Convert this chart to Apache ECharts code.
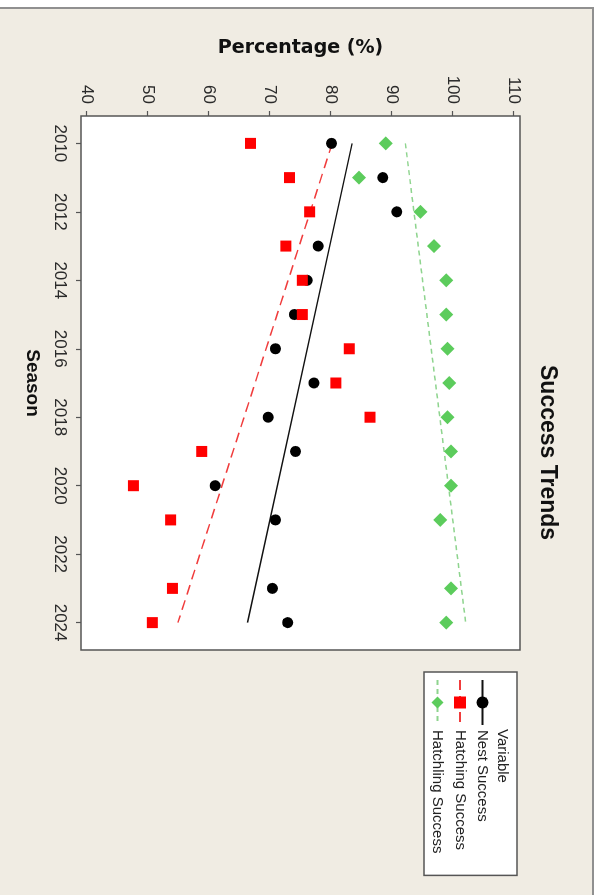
<!DOCTYPE html>
<html>
<head>
<meta charset="utf-8">
<script src="https://cdn.jsdelivr.net/npm/echarts@6/dist/echarts.min.js"></script>
<style>
html,body{margin:0;padding:0;background:#fff;width:600px;height:895px;overflow:hidden;}
#chart{position:absolute;left:0;top:0;width:895px;height:600px;transform-origin:0 0;transform:translate(600px,0) rotate(90deg);}
</style>
</head>
<body>
<div id="chart"></div>
<script>
// ---- data ----
const seasons = [2010, 2011, 2012, 2013, 2014, 2015, 2016, 2017, 2018, 2019, 2020, 2021, 2022, 2023, 2024];
const nestSuccess = [80.1, 88.5, 90.8, 77.9, 76.1, 74.0, 70.9, 77.2, 69.7, 74.2, 61.0, 70.9, null, 70.4, 72.9];
const hatchingSuccess = [66.8, 73.2, 76.5, 72.6, 75.3, 75.3, 83.0, 80.8, 86.4, 58.8, 47.6, 53.7, null, 54.0, 50.7];
const hatchlingSuccess = [89.0, 84.6, 94.7, 96.9, 98.9, 98.9, 99.1, 99.4, 99.1, 99.7, 99.7, 97.9, null, 99.7, 98.9];
const seasonTicks = [2010, 2012, 2014, 2016, 2018, 2020, 2022, 2024];
const percentTicks = [40, 50, 60, 70, 80, 90, 100, 110];
const seriesNames = ['Nest Success', 'Hatching Success', 'Hatchling Success'];

function pairs(xs, ys) {
  return xs.map((x, i) => [x, ys[i]]).filter(p => p[1] !== null && p[1] !== undefined);
}
function fitLine(xs, ys) {
  const pts = pairs(xs, ys);
  const n = pts.length;
  const mx = pts.reduce((s, p) => s + p[0], 0) / n;
  const my = pts.reduce((s, p) => s + p[1], 0) / n;
  let sxy = 0, sxx = 0;
  pts.forEach(p => { sxy += (p[0] - mx) * (p[1] - my); sxx += (p[0] - mx) * (p[0] - mx); });
  const b = sxy / sxx, a = my - b * mx;
  const x0 = Math.min(...pts.map(p => p[0])), x1 = Math.max(...pts.map(p => p[0]));
  return [[x0, a + b * x0], [x1, a + b * x1]];
}

const FONT = 'Liberation Sans';
const chart = echarts.init(document.getElementById('chart'), null, {width: 895, height: 600, renderer: 'canvas'});

const option = {
  backgroundColor: '#ffffff',
  animation: false,
  title: {
    text: 'Success Trends',
    left: 365, top: 41, padding: 0,
    textStyle: {fontFamily: FONT, fontSize: 23, fontWeight: 'bold', color: '#111'}
  },
  graphic: {
    elements: [
      {type: 'rect', z: -10, silent: true,
       shape: {x: 8, y: 7, width: 900, height: 600},
       style: {fill: '#f0ece3', stroke: '#909090', lineWidth: 2}},
      {type: 'text', z: 100, silent: true, x: 729, y: 98,
       style: {text: 'Variable', fontFamily: FONT, fontSize: 15, fill: '#222', verticalAlign: 'middle', align: 'left'}}
    ]
  },
  legend: {
    data: seriesNames,
    orient: 'vertical',
    left: 672, top: 83,
    padding: [27, 22, 6, 7],
    itemWidth: 45, itemHeight: 15, itemGap: 7.5,
    backgroundColor: '#ffffff',
    borderColor: '#555', borderWidth: 1.5,
    selectedMode: false,
    textStyle: {fontFamily: FONT, fontSize: 15, color: '#222'}
  },
  grid: {
    left: 116, top: 80, width: 534, height: 439,
    show: true, backgroundColor: '#ffffff', borderColor: '#555', borderWidth: 1.5,
    containLabel: false
  },
  xAxis: {
    type: 'value', min: 2009.2, max: 2024.8, position: 'bottom',
    name: 'Season', nameLocation: 'middle', nameGap: 39,
    nameTextStyle: {fontFamily: FONT, fontSize: 19, fontWeight: 'bold', color: '#111'},
    axisLine: {show: false},
    axisTick: {show: true, inside: false, length: 5, customValues: seasonTicks, lineStyle: {color: '#555', width: 1.2}},
    axisLabel: {customValues: seasonTicks, formatter: v => String(v), fontFamily: FONT, fontSize: 17, color: '#2a2a2a', margin: 13},
    splitLine: {show: false}
  },
  yAxis: {
    type: 'value', min: 39, max: 111, position: 'left',
    name: 'Percentage (%)', nameLocation: 'middle', nameGap: 58, nameRotate: 90,
    nameTextStyle: {fontFamily: 'DejaVu Sans', fontSize: 19, fontWeight: 'bold', color: '#111'},
    axisLine: {show: false},
    axisTick: {show: true, inside: false, length: 5, customValues: percentTicks, lineStyle: {color: '#555', width: 1.2}},
    axisLabel: {customValues: percentTicks, formatter: v => String(v), fontFamily: FONT, fontSize: 17, color: '#2a2a2a', margin: 12},
    splitLine: {show: false}
  },
  series: [
    {name: 'Nest Success', type: 'line', data: fitLine(seasons, nestSuccess), showSymbol: false,
     symbol: 'circle', symbolSize: 11, z: 2, silent: true,
     itemStyle: {color: '#000000'}, lineStyle: {color: '#111111', width: 1.4, type: 'solid'}},
    {name: 'Hatching Success', type: 'line', data: fitLine(seasons, hatchingSuccess), showSymbol: false,
     symbol: 'rect', symbolSize: 11, z: 2, silent: true,
     itemStyle: {color: '#ff0000'}, lineStyle: {color: '#f03c3c', width: 1.5, type: [10, 6]}},
    {name: 'Hatchling Success', type: 'line', data: fitLine(seasons, hatchlingSuccess), showSymbol: false,
     symbol: 'diamond', symbolSize: 14, z: 2, silent: true,
     itemStyle: {color: '#5ccc5c'}, lineStyle: {color: '#8ed48e', width: 1.5, type: [5, 4]}},
    {name: 'Nest Success points', type: 'scatter', data: pairs(seasons, nestSuccess),
     symbol: 'circle', symbolSize: 11, z: 3, itemStyle: {color: '#000000', opacity: 1}},
    {name: 'Hatching Success points', type: 'scatter', data: pairs(seasons, hatchingSuccess),
     symbol: 'rect', symbolSize: 11, z: 4, itemStyle: {color: '#ff0000', opacity: 1}},
    {name: 'Hatchling Success points', type: 'scatter', data: pairs(seasons, hatchlingSuccess),
     symbol: 'diamond', symbolSize: 14, z: 5, itemStyle: {color: '#5ccc5c', opacity: 1}}
  ]
};
chart.setOption(option);
</script>
</body>
</html>
